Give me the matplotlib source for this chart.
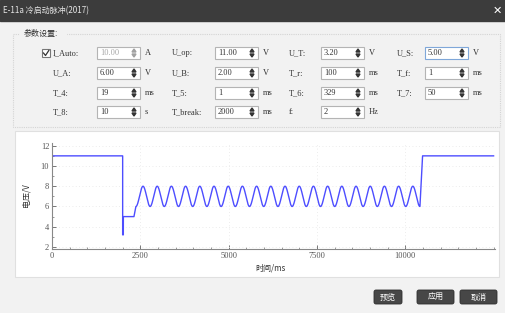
import numpy as np
import matplotlib
matplotlib.use("Agg")
import matplotlib.pyplot as plt
from matplotlib.patches import Rectangle, FancyBboxPatch, Polygon

W, H = 505, 313

# --- waveform (ms, V) ---
head_t = [0, 2000, 2000, 2019, 2020, 2320, 2375]
head_v = [11.0, 11.0, 3.2, 3.2, 5.0, 5.0, 6.0]
sine_start = 2375
sine_period = 402
sine_cycles = 20
sine_low, sine_high = 6.0, 8.0
tail_t = [2375 + 402 * 20, 10490, 12500]
tail_v = [6.0, 11.0, 11.0]

xticks = [0, 2500, 5000, 7500, 10000]
yticks = [2, 4, 6, 8, 10, 12]

# --- dialog fields ---
rows = [
    [("I_Auto:", "10.00", "A"), ("U_op:", "11.00", "V"), ("U_T:", "3.20", "V"), ("U_S:", "5.00", "V")],
    [("U_A:", "6.00", "V"), ("U_B:", "2.00", "V"), ("T_r:", "100", "ms"), ("T_f:", "1", "ms")],
    [("T_4:", "19", "ms"), ("T_5:", "1", "ms"), ("T_6:", "329", "ms"), ("T_7:", "50", "ms")],
    [("T_8:", "10", "s"), ("T_break:", "2000", "ms"), ("f:", "2", "Hz")],
]
row_y = [53, 73, 93, 112]
col_label_x = [53, 172, 289, 397]
col_box_x = [97, 215, 321, 425]
box_w = 43

serif = ["Liberation Serif", "Noto Sans CJK SC"]
cjk = ["Noto Sans CJK SC", "DejaVu Sans"]

fig = plt.figure(figsize=(W / 100, H / 100), dpi=100)
bg = fig.add_axes([0, 0, 1, 1])
bg.set_xlim(0, W)
bg.set_ylim(H, 0)
bg.axis("off")

bg.add_patch(Rectangle((0, 0), W, H, color="#f2f2f2"))
bg.add_patch(Rectangle((0, 0), W, 21, color="#3c3c3c"))
bg.text(3, 11, "E-11a 冷启动脉冲(2017)", color="#e6e6e6", fontsize=5.8,
        va="center", family=cjk)
bg.text(497, 10.5, "✕", color="white", fontsize=8, va="center", ha="center",
        family=["DejaVu Sans"])

# group box
bg.add_patch(Rectangle((13, 34), 487, 93, fill=False, ec="#d4d4d4", lw=0.8, ls=(0, (1, 1))))
bg.add_patch(Rectangle((20, 27), 46, 12, color="#f2f2f2"))
bg.text(24, 33, "参数设置:", fontsize=5.8, va="center", family=cjk, color="#333333")

for r, fields in enumerate(rows):
    y = row_y[r]
    for c, (lab, val, unit) in enumerate(fields):
        bx = col_box_x[c]
        bg.text(col_label_x[c], y, lab, fontsize=6, va="center", family=serif, color="#333333")
        ec = "#7fa7d9" if (r == 0 and c == 3) else "#b4b4b4"
        bg.add_patch(Rectangle((bx, y - 6), box_w, 12, fc="white", ec=ec, lw=0.8))
        tc = "#a8a8a8" if (r == 0 and c == 0) else "#333333"
        bg.text(bx + 3, y, val, fontsize=6, va="center", family=serif, color=tc)
        ax0 = bx + box_w - 6
        ac = "#a0a0a0" if (r == 0 and c == 0) else "#333333"
        bg.add_patch(Polygon([[ax0 - 2, y - 1], [ax0 + 2, y - 1], [ax0, y - 4]], color=ac))
        bg.add_patch(Polygon([[ax0 - 2, y + 1], [ax0 + 2, y + 1], [ax0, y + 4]], color=ac))
        bg.text(bx + box_w + 5, y, unit, fontsize=6, va="center", family=serif, color="#333333")

# checkbox
bg.add_patch(Rectangle((42, 49), 8, 8, fc="white", ec="#777777", lw=0.8))
bg.plot([43.5, 45.5, 48.8], [53, 55.5, 50.5], color="#333333", lw=0.9)

# chart panel
bg.add_patch(Rectangle((15, 131), 484, 146, fc="white", ec="#e0e0e0", lw=0.8))

# buttons
for x0, x1, lab in [(374, 402, "预览"), (417, 454, "应用"), (460, 497, "取消")]:
    bg.add_patch(FancyBboxPatch((x0, 290), x1 - x0, 14, boxstyle="round,pad=0,rounding_size=2",
                                fc="#474747", ec="#2e2e2e", lw=0.6))
    bg.text((x0 + x1) / 2, 297, lab, color="white", fontsize=5.8, ha="center", va="center",
            family=cjk)

# --- the chart ---
ax = fig.add_axes([52 / W, 1 - 249 / H, 443 / W, 106.3 / H])
ax.set_facecolor("white")

st = np.linspace(sine_start, sine_start + sine_period * sine_cycles, sine_cycles * 40 + 1)
sv = (sine_low + sine_high) / 2 - (sine_high - sine_low) / 2 * np.cos(2 * np.pi * (st - sine_start) / sine_period)
t = np.concatenate([head_t, st, tail_t])
v = np.concatenate([head_v, sv, tail_v])
ax.plot(t, v, color="#4d4dff", lw=1.0)

ax.set_xlim(0, 12540)
ax.set_ylim(1.8, 12.3)
ax.set_xticks(xticks)
ax.set_yticks(yticks)
ax.set_xticks(np.arange(0, 12600, 500), minor=True)
ax.set_yticks(np.arange(2, 12.5, 1), minor=True)
for s in ["top", "right"]:
    ax.spines[s].set_visible(False)
for s in ["left", "bottom"]:
    ax.spines[s].set_color("#888888")
    ax.spines[s].set_linewidth(0.8)
ax.tick_params(which="major", direction="in", length=3, width=0.7, color="#777777",
               labelsize=6, labelcolor="#555555", pad=2)
ax.tick_params(which="minor", direction="in", length=1.5, width=0.6, color="#888888")
for lab in ax.get_xticklabels() + ax.get_yticklabels():
    lab.set_family(serif)
ax.grid(True, which="major", color="#e6e6e6", lw=0.6, ls=(0, (1, 3)))

bg.text(26, 195, "电压/V", rotation=90, fontsize=5.8, ha="center", va="center",
        family=cjk, color="#333333")
bg.text(255, 268, "时间/ms", fontsize=5.8, ha="left", va="center", family=cjk, color="#333333")

fig.savefig("out.png", dpi=100)
